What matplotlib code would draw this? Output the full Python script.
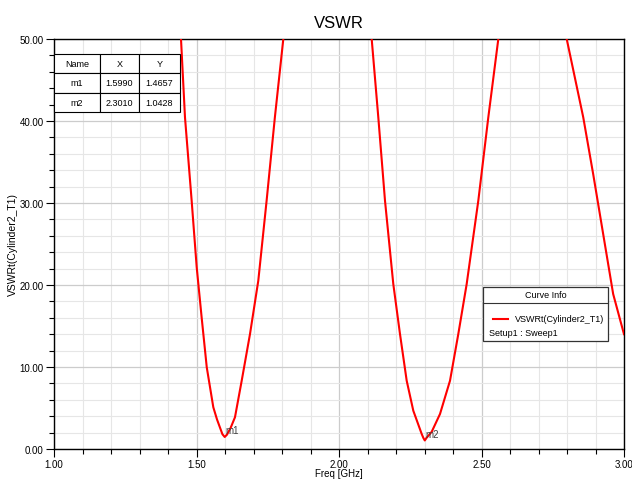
import matplotlib.pyplot as plt
import numpy as np
from matplotlib.ticker import MultipleLocator, FormatStrFormatter

plt.rcParams['font.family'] = ['Liberation Sans', 'DejaVu Sans']

# curve points, branches split by NaN (clipped at 50)
freq = [1.4456, 1.4596, 1.483, 1.5007, 1.518, 1.536, 1.559, 1.572, 1.582, 1.591, 1.599,
        1.607, 1.620, 1.635, 1.6586, 1.6877, 1.7168, 1.746, 1.775, 1.8046, np.nan,
        2.1147, 2.1379, 2.1614, 2.1905, 2.214, 2.2375, 2.2607, 2.2902, 2.296, 2.301,
        2.307, 2.3253, 2.3544, 2.3895, 2.4186, 2.448, 2.4888, 2.5239, 2.559, np.nan,
        2.799, 2.857, 2.892, 2.927, 2.962, 3.0]
vswr = [50.0, 40.45, 30.28, 22.16, 16.06, 9.96, 5.09, 3.6, 2.65, 1.8, 1.4657,
        1.75, 2.6, 3.87, 8.33, 14.02, 20.52, 30.28, 40.45, 50.0, np.nan,
        50.0, 40.45, 30.28, 20.12, 14.02, 8.33, 4.67, 1.83, 1.35, 1.0428,
        1.35, 2.1, 4.27, 8.33, 14.02, 20.12, 30.28, 40.45, 50.0, np.nan,
        50.0, 40.45, 33.5, 26.2, 18.9, 14.0]

marker_names = ['m1', 'm2']
marker_x = [1.5990, 2.3010]
marker_y = [1.4657, 1.0428]

fig = plt.figure(figsize=(6.32, 4.81), dpi=100)
ax = fig.add_axes([54 / 632, 31 / 481, 570 / 632, 410 / 481])

ax.plot(freq, vswr, color='#ff0000', linewidth=1.5, clip_on=True, zorder=3)

ax.set_xlim(1.0, 3.0)
ax.set_ylim(0, 50)
ax.xaxis.set_major_locator(MultipleLocator(0.5))
ax.xaxis.set_minor_locator(MultipleLocator(0.1))
ax.yaxis.set_major_locator(MultipleLocator(10))
ax.yaxis.set_minor_locator(MultipleLocator(2))
ax.xaxis.set_major_formatter(FormatStrFormatter('%.2f'))
ax.yaxis.set_major_formatter(FormatStrFormatter('%.2f'))
ax.grid(which='minor', color='#e6e6e6', linewidth=0.8)
ax.grid(which='major', color='#cccccc', linewidth=0.9)
ax.set_axisbelow(True)
ax.tick_params(which='major', direction='out', length=6, width=0.8, labelsize=7, pad=1.5)
ax.tick_params(which='minor', direction='out', length=3.5, width=0.8)
for s in ax.spines.values():
    s.set_linewidth(1.0)

ax.set_title('VSWR', fontsize=12, pad=9)
ax.set_xlabel('Freq [GHz]', fontsize=7, labelpad=-1)
ax.set_ylabel('VSWRt(Cylinder2_T1)', fontsize=7.5, labelpad=1)

for n, x, y in zip(marker_names, marker_x, marker_y):
    ax.text(x + 0.002, y + 0.2, n, fontsize=7, color='#404040', va='bottom', ha='left', zorder=4)

# marker table
cell_text = [[n, '%.4f' % x, '%.4f' % y] for n, x, y in zip(marker_names, marker_x, marker_y)]
tbl = ax.table(cellText=cell_text, colLabels=['Name', 'X', 'Y'],
               cellLoc='center', colWidths=[46 / 570, 39 / 570, 41 / 570],
               bbox=[0, 1 - 73 / 410, 126 / 570, 58 / 410], zorder=5)
tbl.auto_set_font_size(False)
tbl.set_fontsize(6.5)
for c in tbl.get_celld().values():
    c.set_linewidth(0.8)
    c.set_facecolor('white')

# curve info box
bx0, bx1 = (483 - 54) / 570, (608 - 54) / 570
by0, by1 = (450 - 342) / 410, (450 - 288) / 410
ax.add_patch(plt.Rectangle((bx0, by0), bx1 - bx0, by1 - by0, transform=ax.transAxes,
                           facecolor='white', edgecolor='#333333', linewidth=0.9, zorder=5))
yd = (450 - 304) / 410
ax.plot([bx0, bx1], [yd, yd], transform=ax.transAxes, color='#333333', linewidth=0.8, zorder=6)
ax.text((bx0 + bx1) / 2, (450 - 296) / 410, 'Curve Info', transform=ax.transAxes,
        ha='center', va='center', fontsize=6.5, zorder=6)
ax.plot([(493 - 54) / 570, (508 - 54) / 570], [(450 - 320) / 410] * 2, transform=ax.transAxes,
        color='#ff0000', linewidth=1.5, zorder=6)
ax.text((515 - 54) / 570, (450 - 320) / 410, 'VSWRt(Cylinder2_T1)', transform=ax.transAxes,
        ha='left', va='center', fontsize=6.5, zorder=6)
ax.text((489 - 54) / 570, (450 - 333) / 410, 'Setup1 : Sweep1', transform=ax.transAxes,
        ha='left', va='center', fontsize=6.5, zorder=6)

fig.savefig('out.png', dpi=100)
